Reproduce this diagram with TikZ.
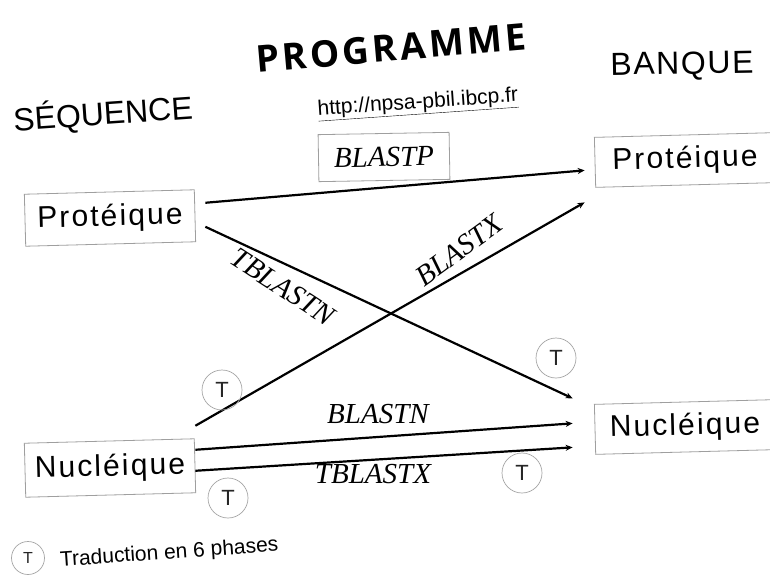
\documentclass[tikz,border=0pt]{standalone}
\usepackage{fontspec}
\setmainfont{Liberation Sans}
\newfontfamily\labfont{Liberation Serif}
\newfontfamily\titlefont[LetterSpace=9]{Open Sans}
\newfontfamily\boxfont[LetterSpace=7]{Liberation Sans}
\usetikzlibrary{arrows.meta}
\begin{document}
\begin{tikzpicture}[x=1pt,y=-1pt,
  boxnode/.style={draw=gray!75,line width=0.8pt,inner sep=0pt,minimum width=170pt,minimum height=52pt,
     font=\boxfont\fontsize{30}{30}\selectfont,rotate=1.5},
  prog/.style={font=\labfont\itshape\fontsize{29}{29}\selectfont,inner sep=1pt},
  arr/.style={line width=2.2pt,-{Stealth[length=7pt,width=6pt]}},
  tcirc/.style={circle,draw=gray!70,line width=0.7pt,minimum size=40pt,inner sep=0pt,
     font=\fontsize{22}{22}\selectfont,text=black!85},
  heading/.style={font=\fontsize{32}{32}\selectfont,inner sep=0pt}
]
\useasboundingbox (0,0) rectangle (770,583);
\fill[white] (0,0) rectangle (770,583);

% headings
\node[font=\titlefont\bfseries\fontsize{37}{37}\selectfont,rotate=5,inner sep=0pt] (prog) at (391,48) {PROGRAMME};
\node[heading,rotate=4] (seq) at (103,114) {SÉQUENCE};
\node[heading,rotate=1] (banq) at (682,66) {\addfontfeature{LetterSpace=5}BANQUE};
\node[font=\fontsize{21}{21}\selectfont,rotate=4,inner sep=0pt] (url) at (418,104) {\underline{http://npsa-pbil.ibcp.fr}};

% boxes
\node[boxnode] (pl) at (110,218) {Protéique};
\node[boxnode,minimum height=54pt] (nl) at (110,468) {Nucléique};
\node[boxnode,minimum width=180pt,minimum height=50pt] (pr) at (685,160) {Protéique};
\node[boxnode,minimum width=180pt,minimum height=50pt] (nr) at (685,427) {Nucléique};

% connectors
\draw[arr] ([xshift=10pt,yshift=13pt]pl.east) -- ([xshift=-10pt,yshift=-8pt]pr.west);
\draw[arr] ([xshift=10pt,yshift=-11pt]pl.east) -- ([xshift=-22pt,yshift=31pt]nr.west);
\draw[arr] ([yshift=40pt]nl.east) -- ([xshift=-10pt,yshift=-40pt]pr.west);
\draw[arr] ([yshift=16pt]nl.east) -- ([xshift=-22pt,yshift=6pt]nr.west);
\draw[arr] ([yshift=-5pt]nl.east) -- ([xshift=-22pt,yshift=-18pt]nr.west);

% program labels
\node[prog,draw=gray!75,line width=0.8pt,minimum width=131pt,minimum height=47pt,rotate=1] (blastp) at (384,157) {BLASTP};
\node[prog,rotate=-33] (tblastn) at (283,287) {TBLASTN};
\node[prog,rotate=36] (blastx) at (459,250) {BLASTX};
\node[prog] (blastn) at (378,414) {BLASTN};
\node[prog] (tblastx) at (373,474) {TBLASTX};

% translation marks
\node[tcirc] (t1) at (556,358) {T};
\node[tcirc] (t2) at (222,390) {T};
\node[tcirc] (t3) at (228,498) {T};
\node[tcirc] (t4) at (522,473) {T};

% legend
\node[tcirc,minimum size=33pt,font=\fontsize{16}{16}\selectfont] (tl) at (28,558) {T};
\node[font=\fontsize{21}{21}\selectfont,rotate=4,anchor=west,inner sep=0pt] (leg) at (60,561) {Traduction en 6 phases};
\end{tikzpicture}
\end{document}
